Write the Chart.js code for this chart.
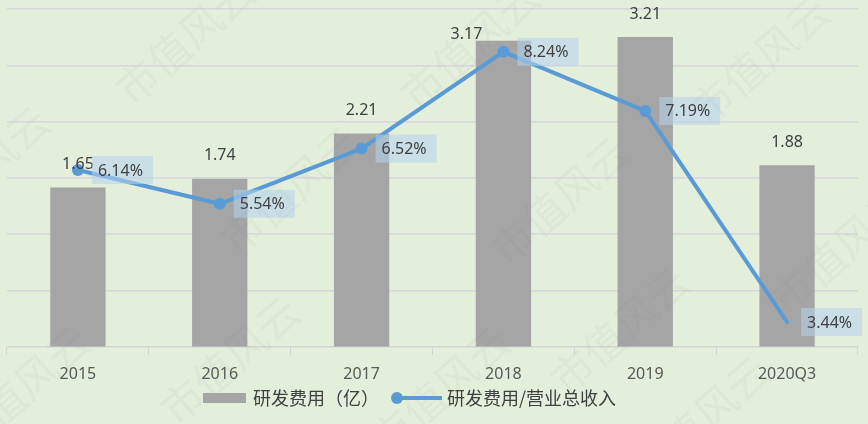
<!DOCTYPE html>
<html lang="zh">
<head>
  <meta charset="UTF-8">
  <title>研发费用</title>
  <script src="https://cdn.jsdelivr.net/npm/chart.js"></script>
  <style>
    html, body { margin: 0; padding: 0; background: #e3eedb; }
    #wrap { width: 868px; height: 424px; position: relative; }
  </style>
</head>
<body>
  <div id="wrap"><canvas id="rdChart" width="868" height="424"></canvas></div>

  <script>
    // 数据
    const years = ['2015', '2016', '2017', '2018', '2019', '2020Q3'];
    const rdCost = [1.65, 1.74, 2.21, 3.17, 3.21, 1.88];          // 研发费用（亿）
    const rdRatio = [6.14, 5.54, 6.52, 8.24, 7.19, 3.44];          // 研发费用/营业总收入 (%)

    const GRAY = '#a5a5a5';
    const BLUE = '#5b9bd5';
    const TEXT = '#404040';
    const NUM_FONT = '16px "Noto Sans", sans-serif';
    const CJK_FONT = '18px "Noto Sans CJK SC", sans-serif';

    // 水印 + 背景
    const bgPlugin = {
      id: 'bg',
      beforeDraw(chart) {
        const c = chart.ctx;
        c.save();
        c.fillStyle = '#e3eedb';
        c.fillRect(0, 0, chart.width, chart.height);
        c.restore();
      },
      afterDraw(chart) {
        const c = chart.ctx;
        c.save();
        c.font = '42px "Noto Sans CJK SC", sans-serif';
        c.fillStyle = 'rgba(120,120,120,0.055)';
        c.textAlign = 'center';
        c.textBaseline = 'middle';
        const spots = [[185, 40], [-20, 170], [290, 190], [470, 45], [560, 200], [760, 60],
                       [620, 330], [230, 360], [20, 390], [440, 390], [840, 250], [700, 420]];
        spots.forEach(([x, y]) => {
          c.save();
          c.translate(x, y);
          c.rotate(-0.72);
          c.fillText('市值风云', 0, 0);
          c.restore();
        });
        c.restore();
      }
    };

    // 数据标签
    const labelPlugin = {
      id: 'labels',
      afterDatasetsDraw(chart) {
        const c = chart.ctx;
        c.save();
        c.font = NUM_FONT;
        c.textBaseline = 'middle';
        c.textAlign = 'center';
        c.fillStyle = TEXT;
        chart.getDatasetMeta(1).data.forEach((bar, i) => {
          let dx = 0, dy = -23;
          if (i === 3) { dx = -37; dy = -6; }
          c.fillText(rdCost[i].toFixed(2), bar.x + dx, bar.y + dy);
        });
        chart.getDatasetMeta(0).data.forEach((pt, i) => {
          const txt = rdRatio[i].toFixed(2) + '%';
          const bx = pt.x + 14, bw = 61, bh = 28;
          c.fillStyle = 'rgba(180,212,236,0.55)';
          c.fillRect(bx, pt.y - bh / 2, bw, bh);
          c.fillStyle = TEXT;
          c.textAlign = 'left';
          c.fillText(txt, bx + 6, pt.y + 1);
        });
        c.restore();
      }
    };

    // 图例
    const legendPlugin = {
      id: 'legendBottom',
      afterDraw(chart) {
        const c = chart.ctx;
        const y = 398;
        c.save();
        c.fillStyle = GRAY;
        c.fillRect(203, y - 5, 43, 10);
        c.font = CJK_FONT;
        c.fillStyle = TEXT;
        c.textBaseline = 'middle';
        c.fillText('研发费用（亿）', 253, y);
        c.strokeStyle = BLUE;
        c.lineWidth = 4;
        c.beginPath();
        c.moveTo(396, y);
        c.lineTo(442, y);
        c.stroke();
        c.fillStyle = BLUE;
        c.beginPath();
        c.arc(397, y, 6, 0, Math.PI * 2);
        c.fill();
        c.fillStyle = TEXT;
        c.fillText('研发费用/营业总收入', 447, y);
        c.restore();
      }
    };

    const ctx = document.getElementById('rdChart').getContext('2d');
    const chart = new Chart(ctx, {
      data: {
        labels: years,
        datasets: [
          {
            type: 'line',
            label: '研发费用/营业总收入',
            data: rdRatio,
            yAxisID: 'y1',
            borderColor: BLUE,
            backgroundColor: BLUE,
            borderWidth: 4,
            borderCapStyle: 'round',
            pointRadius: c => c.dataIndex === 5 ? 0 : 6,
            pointBorderWidth: 0,
            tension: 0,
            order: 0
          },
          {
            type: 'bar',
            label: '研发费用（亿）',
            data: rdCost,
            yAxisID: 'y',
            backgroundColor: GRAY,
            barPercentage: 0.39,
            categoryPercentage: 1,
            order: 1
          }
        ]
      },
      options: {
        responsive: false,
        animation: false,
        layout: { padding: { left: 7, right: 10, top: 9, bottom: 30 } },
        plugins: { legend: { display: false }, tooltip: { enabled: false } },
        scales: {
          x: {
            offset: true,
            grid: { display: true, drawOnChartArea: false, drawTicks: true, tickLength: 8, color: '#d3d3d6', offset: true },
            border: { display: true, color: '#d3d3d6', width: 1 },
            ticks: { font: { family: '"Noto Sans", sans-serif', size: 16 }, color: '#595959', padding: 10, maxRotation: 0 }
          },
          y: {
            display: false,
            min: 0,
            max: 3.5
          },
          y1: {
            position: 'right',
            min: 3,
            max: 9,
            ticks: { display: false, stepSize: 1 },
            grid: { color: '#d6d6dc', lineWidth: 1.5, drawTicks: false },
            border: { display: false }
          }
        }
      },
      plugins: [bgPlugin, labelPlugin, legendPlugin]
    });
  </script>
</body>
</html>
